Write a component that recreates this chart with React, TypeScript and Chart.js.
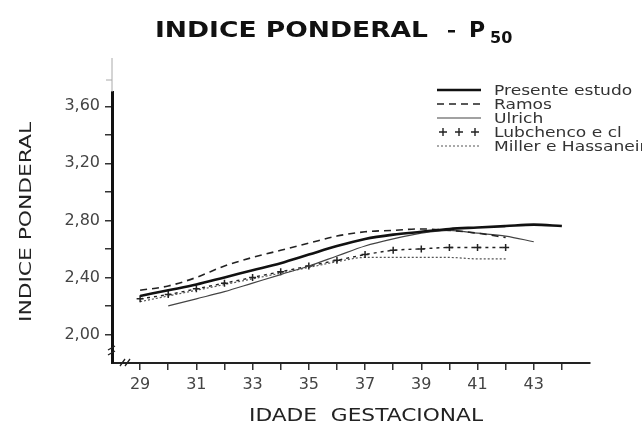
import React, { useEffect, useRef } from "react";
import { Chart, registerables } from "chart.js";
Chart.register(...registerables);

// ---- data ----
const presenteWeeks = [29, 30, 31, 32, 33, 34, 35, 36, 37, 38, 39, 40, 41, 42, 43, 44];
const presenteValues = [2.27, 2.31, 2.35, 2.4, 2.45, 2.5, 2.56, 2.62, 2.67, 2.7, 2.72, 2.74, 2.75, 2.76, 2.77, 2.76];

const ramosWeeks = [29, 30, 31, 32, 33, 34, 35, 36, 37, 38, 39, 40, 41, 42];
const ramosValues = [2.31, 2.34, 2.4, 2.48, 2.54, 2.59, 2.64, 2.69, 2.72, 2.73, 2.74, 2.73, 2.71, 2.68];

const ulrichWeeks = [30, 31, 32, 33, 34, 35, 36, 37, 38, 39, 40, 41, 42, 43];
const ulrichValues = [2.2, 2.25, 2.3, 2.36, 2.42, 2.48, 2.55, 2.62, 2.67, 2.71, 2.73, 2.71, 2.69, 2.65];

const lubchencoWeeks = [29, 30, 31, 32, 33, 34, 35, 36, 37, 38, 39, 40, 41, 42];
const lubchencoValues = [2.25, 2.28, 2.32, 2.36, 2.4, 2.44, 2.48, 2.52, 2.56, 2.59, 2.6, 2.61, 2.61, 2.61];

const millerWeeks = [29, 30, 31, 32, 33, 34, 35, 36, 37, 38, 39, 40, 41, 42];
const millerValues = [2.23, 2.27, 2.31, 2.35, 2.39, 2.43, 2.47, 2.51, 2.54, 2.54, 2.54, 2.54, 2.53, 2.53];

const seriesNames = ["Presente estudo", "Ramos", "Ulrich", "Lubchenco e cl", "Miller e Hassanein"];

const xTickValues = [29, 30, 31, 32, 33, 34, 35, 36, 37, 38, 39, 40, 41, 42, 43, 44];
const xLabelValues = [29, 31, 33, 35, 37, 39, 41, 43];
const yTickValues = [2.0, 2.2, 2.4, 2.6, 2.8, 3.0, 3.2, 3.4, 3.6];
const yLabelValues = [2.0, 2.4, 2.8, 3.2, 3.6];

const titleMain = "INDICE PONDERAL";
const titleP = "P";
const titleSub = "50";
const yTitle = "INDICE PONDERAL";
const xTitle = "IDADE  GESTACIONAL";

const toPoints = (xs: number[], ys: number[]) => xs.map((x, i) => ({ x, y: ys[i] }));

const styles = [
  { color: "#111", width: 2.6, dash: [] as number[], point: false },
  { color: "#222", width: 1.6, dash: [7, 5], point: false },
  { color: "#444", width: 1.2, dash: [] as number[], point: false },
  { color: "#222", width: 1.4, dash: [3, 4], point: true },
  { color: "#555", width: 1.2, dash: [2, 2], point: false },
];

function drawFit(ctx: CanvasRenderingContext2D, text: string, x: number, y: number, font: string, width: number, align: "left" | "center" = "left") {
  ctx.save();
  ctx.font = font;
  const w = ctx.measureText(text).width;
  const sx = width / w;
  ctx.translate(x, y);
  ctx.scale(sx, 1);
  ctx.textAlign = align;
  ctx.fillText(text, 0, 0);
  ctx.restore();
}

const decor = {
  id: "decor",
  afterDraw(chart: any) {
    const ctx: CanvasRenderingContext2D = chart.ctx;
    const ca = chart.chartArea;
    ctx.save();
    ctx.textBaseline = "alphabetic";
    // title
    ctx.fillStyle = "#111";
    drawFit(ctx, titleMain, 155, 37, 'bold 21px "DejaVu Sans"', 273);
    ctx.fillRect(448, 30, 7, 2.5);
    ctx.font = 'bold 22px "DejaVu Sans"';
    ctx.textAlign = "left";
    ctx.fillText(titleP, 469, 37);
    ctx.font = 'bold 16px "DejaVu Sans"';
    ctx.fillText(titleSub, 490, 43);

    // y title
    ctx.save();
    ctx.translate(31, 222);
    ctx.rotate(-Math.PI / 2);
    ctx.fillStyle = "#222";
    drawFit(ctx, yTitle, 0, 0, '16px "DejaVu Sans"', 200, "center");
    ctx.restore();

    // x title
    ctx.fillStyle = "#222";
    drawFit(ctx, xTitle, 366, 421, '18px "DejaVu Sans"', 234, "center");

    // y axis extension above
    ctx.strokeStyle = "#aaa";
    ctx.lineWidth = 1;
    ctx.beginPath();
    ctx.moveTo(ca.left, ca.top);
    ctx.lineTo(ca.left, 58);
    ctx.moveTo(ca.left - 6, 80);
    ctx.lineTo(ca.left, 80);
    ctx.stroke();

    // axis breaks
    ctx.strokeStyle = "#222";
    ctx.lineWidth = 1.3;
    ctx.beginPath();
    ctx.moveTo(ca.left - 4, 350);
    ctx.lineTo(ca.left + 3, 346);
    ctx.moveTo(ca.left - 4, 355);
    ctx.lineTo(ca.left + 3, 351);
    ctx.moveTo(ca.left + 8, ca.bottom + 3);
    ctx.lineTo(ca.left + 13, ca.bottom - 4);
    ctx.moveTo(ca.left + 13, ca.bottom + 3);
    ctx.lineTo(ca.left + 18, ca.bottom - 4);
    ctx.stroke();

    // legend
    const sx0 = 437, sx1 = 481, tx = 494;
    for (let i = 0; i < seriesNames.length; i++) {
      const y = 90 + i * 14;
      const st = styles[i];
      ctx.strokeStyle = st.color;
      ctx.lineWidth = st.width;
      ctx.setLineDash(st.point ? [] : st.dash);
      ctx.beginPath();
      if (st.point) {
        for (let k = 0; k < 3; k++) {
          const cx = sx0 + 6 + k * 16;
          ctx.moveTo(cx - 4, y);
          ctx.lineTo(cx + 4, y);
          ctx.moveTo(cx, y - 4);
          ctx.lineTo(cx, y + 4);
        }
      } else {
        ctx.moveTo(sx0, y);
        ctx.lineTo(sx1, y);
      }
      ctx.stroke();
      ctx.setLineDash([]);
      ctx.fillStyle = "#333";
      ctx.save();
      ctx.font = '14px "DejaVu Sans"';
      ctx.translate(tx, y + 5);
      ctx.scale(1.22, 1);
      ctx.textAlign = "left";
      ctx.fillText(seriesNames[i], 0, 0);
      ctx.restore();
    }
    ctx.restore();
  },
};

export default function App() {
  const ref = useRef<HTMLCanvasElement>(null);
  useEffect(() => {
    const canvas = ref.current!;
    const allX = [presenteWeeks, ramosWeeks, ulrichWeeks, lubchencoWeeks, millerWeeks];
    const allY = [presenteValues, ramosValues, ulrichValues, lubchencoValues, millerValues];
    const datasets = seriesNames.map((name, i) => {
      const st = styles[i];
      return {
        label: name,
        data: toPoints(allX[i], allY[i]),
        borderColor: st.color,
        backgroundColor: st.color,
        borderWidth: st.width,
        borderDash: st.dash,
        cubicInterpolationMode: "monotone" as const,
        pointRadius: st.point ? 3.5 : 0,
        pointStyle: "cross" as const,
        pointBorderWidth: 1.5,
        pointBorderColor: st.color,
        fill: false,
      };
    });
    const chart = new Chart(canvas, {
      type: "line",
      data: { datasets },
      options: {
        responsive: false,
        animation: false,
        layout: { padding: { top: 92, right: 52, left: 0, bottom: 0 } },
        plugins: { legend: { display: false }, tooltip: { enabled: false }, title: { display: false } },
        scales: {
          x: {
            type: "linear",
            min: 28,
            max: 45,
            afterFit: (s: any) => {
              s.height = 62;
            },
            afterBuildTicks: (s: any) => {
              s.ticks = xTickValues.map((v) => ({ value: v }));
            },
            ticks: {
              autoSkip: false,
              maxRotation: 0,
              padding: 5,
              color: "#444",
              font: { family: "DejaVu Sans", size: 16 },
              callback: (v: any) => (xLabelValues.includes(Number(v)) ? String(v) : ""),
            },
            grid: { drawOnChartArea: false, drawTicks: true, tickLength: 7, color: "#333", lineWidth: 1.5 },
            border: { display: true, color: "#222", width: 2 },
          },
          y: {
            type: "linear",
            min: 1.8,
            max: 3.7,
            afterFit: (s: any) => {
              s.width = 112;
            },
            afterBuildTicks: (s: any) => {
              s.ticks = yTickValues.map((v) => ({ value: v }));
            },
            ticks: {
              autoSkip: false,
              padding: 5,
              color: "#444",
              font: { family: "DejaVu Sans", size: 16 },
              callback: (v: any) =>
                yLabelValues.some((l) => Math.abs(l - Number(v)) < 1e-6) ? Number(v).toFixed(2).replace(".", ",") : "",
            },
            grid: { drawOnChartArea: false, drawTicks: true, tickLength: 7, color: "#333", lineWidth: 1.5 },
            border: { display: true, color: "#111", width: 3 },
          },
        },
      },
      plugins: [decor],
    });
    return () => chart.destroy();
  }, []);
  return (
    <div style={{ position: "fixed", left: 0, top: 0, width: 642, height: 425, background: "#fff" }}>
      <canvas ref={ref} width={642} height={425} style={{ width: 642, height: 425, display: "block" }} />
    </div>
  );
}
